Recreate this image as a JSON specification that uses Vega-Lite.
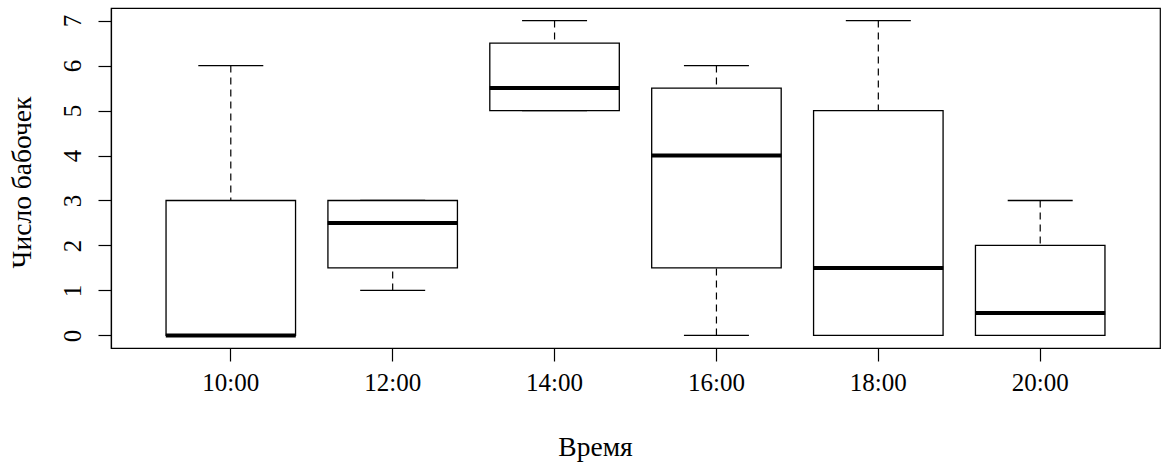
{
  "$schema": "https://vega.github.io/schema/vega-lite/v6.json",
  "width": 1049,
  "height": 340,
  "autosize": {"type": "none"},
  "padding": {"left": 111, "top": 8, "right": 7, "bottom": 116},
  "background": "white",
  "config": {
    "view": {"stroke": "black", "strokeWidth": 1.2},
    "font": "Liberation Serif",
    "axis": {
      "grid": false,
      "domainColor": "black",
      "tickColor": "black",
      "labelColor": "black",
      "titleColor": "black",
      "labelFont": "Liberation Serif",
      "titleFont": "Liberation Serif",
      "labelFontSize": 25,
      "titleFontSize": 27.5,
      "titleFontWeight": "normal",
      "tickSize": 13,
      "tickWidth": 1.2,
      "domainWidth": 1.2
    }
  },
  "data": {
    "values": [
      {"t": "10:00", "lo": 0, "q1": 0, "med": 0, "q3": 3, "hi": 6},
      {"t": "12:00", "lo": 1, "q1": 1.5, "med": 2.5, "q3": 3, "hi": 3},
      {"t": "14:00", "lo": 5, "q1": 5, "med": 5.5, "q3": 6.5, "hi": 7},
      {"t": "16:00", "lo": 0, "q1": 1.5, "med": 4, "q3": 5.5, "hi": 6},
      {"t": "18:00", "lo": 0, "q1": 0, "med": 1.5, "q3": 5, "hi": 7},
      {"t": "20:00", "lo": 0, "q1": 0, "med": 0.5, "q3": 2, "hi": 3}
    ]
  },
  "encoding": {
    "x": {
      "field": "t",
      "type": "ordinal",
      "sort": null,
      "scale": {"type": "band", "paddingInner": 0.2, "paddingOuter": 0.34},
      "axis": {
        "title": "Время",
        "labelAngle": 0,
        "labelFontSize": 25,
        "titleFontSize": 27.5,
        "labelBaseline": "top",
        "labelPadding": 9,
        "titleX": 484,
        "titleY": 107,
        "titleAlign": "center",
        "titleBaseline": "alphabetic"
      }
    }
  },
  "layer": [
    {
      "mark": {"type": "rule", "color": "black", "strokeWidth": 1.2, "strokeDash": [7, 5]},
      "encoding": {
        "y": {
          "field": "hi",
          "type": "quantitative",
          "scale": {"domain": [-0.28, 7.28], "nice": false, "zero": false},
          "axis": {
            "title": "Число бабочек",
            "values": [0, 1, 2, 3, 4, 5, 6, 7],
            "labelFontSize": 25,
            "titleFontSize": 27.5,
            "labelAngle": 270,
            "labelAlign": "center",
            "labelBaseline": "alphabetic",
            "labelPadding": 18,
            "titleAngle": 270,
            "titleX": -81,
            "titleY": 174,
            "titleAlign": "center",
            "titleBaseline": "alphabetic"
          }
        },
        "y2": {"field": "q3"}
      }
    },
    {
      "mark": {"type": "rule", "color": "black", "strokeWidth": 1.2, "strokeDash": [7, 5]},
      "encoding": {
        "y": {"field": "lo", "type": "quantitative"},
        "y2": {"field": "q1"}
      }
    },
    {
      "mark": {"type": "tick", "color": "black", "thickness": 1.3, "size": 65, "opacity": 1},
      "encoding": {"y": {"field": "hi", "type": "quantitative"}}
    },
    {
      "mark": {"type": "tick", "color": "black", "thickness": 1.3, "size": 65, "opacity": 1},
      "encoding": {"y": {"field": "lo", "type": "quantitative"}}
    },
    {
      "mark": {"type": "bar", "fill": "white", "stroke": "black", "strokeWidth": 1.3},
      "encoding": {
        "y": {"field": "q1", "type": "quantitative"},
        "y2": {"field": "q3"}
      }
    },
    {
      "mark": {"type": "tick", "color": "black", "thickness": 4, "size": 130, "opacity": 1},
      "encoding": {"y": {"field": "med", "type": "quantitative"}}
    }
  ]
}
